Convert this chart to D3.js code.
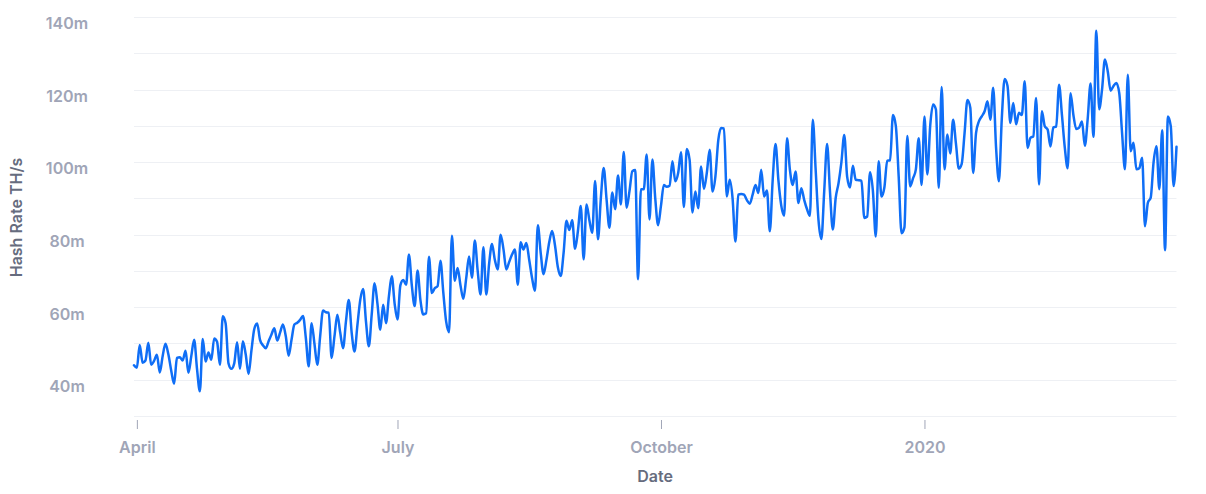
<!DOCTYPE html>
<html>
<head>
<meta charset="utf-8">
<script src="https://cdn.jsdelivr.net/npm/d3@7"></script>
<style>
  html, body { margin: 0; padding: 0; background: #fff; }
  svg { display: block; font-family: Inter, "Noto Sans", sans-serif; }
</style>
</head>
<body>
<svg id="chart" width="1206" height="494"></svg>
<script>
// --- DATA ---
// daily hash rate (millions of TH/s), one value per day starting 2019-03-31
const startDate = "2019-03-31";
const hashRate = [
  44.0, 43.3, 49.6, 44.7, 45.3, 50.2, 44.1, 45.2, 46.9, 42.0,
  46.5, 49.9, 47.0, 42.5, 38.9, 46.0, 46.2, 45.3, 48.0, 41.9,
  46.5, 51.0, 43.0, 36.8, 51.2, 45.0, 47.5, 45.5, 51.4, 50.5,
  44.1, 57.5, 55.5, 44.5, 43.0, 44.5, 50.3, 43.0, 50.6, 47.0,
  41.6, 48.0, 54.0, 55.5, 51.0, 49.5, 48.7, 50.6, 52.5, 54.2,
  50.8, 53.0, 55.2, 52.0, 46.6, 51.0, 55.2, 55.7, 56.5, 57.6,
  51.5, 43.7, 55.6, 50.0, 44.1, 52.0, 59.1, 58.6, 58.5, 46.0,
  52.0, 57.9, 53.0, 48.7, 56.0, 62.0, 53.0, 47.8, 55.0, 62.0,
  65.0, 56.0, 49.2, 58.0, 66.6, 61.0, 53.8, 60.7, 55.6, 63.0,
  68.5, 61.0, 56.6, 66.0, 67.5, 66.2, 74.5, 66.0, 60.3, 70.1,
  62.0, 58.0, 58.3, 73.9, 63.9, 65.2, 65.8, 72.8, 64.0, 56.0,
  53.1, 79.7, 67.3, 70.8, 66.0, 62.3, 68.0, 74.0, 68.1, 78.4,
  70.0, 63.5, 76.5, 63.5, 72.0, 77.4, 73.0, 70.4, 80.0, 76.0,
  70.4, 72.5, 74.5, 75.9, 66.2, 77.9, 75.9, 77.7, 73.0, 68.0,
  64.5, 82.6, 75.0, 69.1, 73.0, 78.0, 81.0, 77.0, 71.0, 68.6,
  75.0, 83.8, 81.3, 84.0, 76.1, 81.0, 87.9, 73.2, 88.3, 84.0,
  80.5, 94.8, 78.7, 90.0, 98.4, 89.7, 81.9, 91.6, 87.0, 96.3,
  88.3, 102.8, 87.4, 92.0, 97.5, 97.8, 67.7, 92.5, 92.5, 102.1,
  84.2, 100.7, 90.0, 82.6, 88.0, 93.7, 93.2, 93.5, 100.2, 94.7,
  97.0, 102.7, 87.6, 103.6, 100.6, 86.1, 91.9, 87.3, 98.8, 92.6,
  97.0, 103.4, 91.9, 96.0, 106.0, 109.4, 109.3, 90.5, 95.1, 90.0,
  78.1, 91.0, 91.2, 91.0, 89.5, 88.5, 91.0, 93.7, 91.5, 97.9,
  90.5, 92.2, 80.9, 95.0, 105.0, 95.0, 88.0, 85.2, 106.6, 98.0,
  93.7, 97.4, 88.7, 92.8, 89.6, 87.0, 85.2, 111.7, 98.0, 84.0,
  78.8, 92.0, 105.0, 92.0, 81.4, 90.1, 94.2, 100.0, 107.5, 96.0,
  93.0, 99.0, 95.1, 95.0, 94.8, 84.6, 85.0, 97.2, 92.0, 79.5,
  100.2, 90.5, 93.0, 100.4, 100.5, 113.0, 110.0, 96.0, 80.4, 82.0,
  107.2, 93.3, 95.5, 98.0, 106.6, 93.7, 112.6, 96.6, 110.0, 115.9,
  114.5, 92.9, 120.7, 98.0, 107.6, 102.4, 111.7, 105.0, 98.2, 99.5,
  108.0, 117.1, 115.0, 97.0, 108.0, 111.2, 112.6, 114.0, 116.8, 111.7,
  120.5, 104.0, 94.7, 112.0, 122.9, 121.0, 110.8, 116.3, 110.4, 113.6,
  113.0, 122.3, 103.9, 106.7, 107.1, 117.7, 93.8, 114.0, 109.9, 109.0,
  104.3, 109.6, 109.8, 121.3, 113.0, 104.0, 98.3, 119.0, 113.0, 109.1,
  109.5, 111.2, 104.5, 112.0, 121.7, 107.0, 136.2, 114.6, 120.0, 128.3,
  125.0, 119.7, 121.0, 121.8, 119.1, 108.0, 98.0, 124.1, 103.0, 105.3,
  98.0, 98.3, 101.2, 82.3, 88.8, 90.2, 100.0, 104.4, 92.5, 108.8,
  75.7, 112.6, 109.9, 93.4, 104.2
];

const xTickDates = ["2019-04-01", "2019-07-01", "2019-10-01", "2020-01-01"];
const xTickLabels = ["April", "July", "October", "2020"];
const yTicks = [40, 60, 80, 100, 120, 140];
const yGrid = [30, 40, 50, 60, 70, 80, 90, 100, 110, 120, 130, 140];

const yLabel = "Hash Rate TH/s";
const xLabel = "Date";

// --- CHART ---
function renderHashRate() {
    const width = 1206, height = 494;
    const marginLeft = 134, marginRight = 30, marginTop = 17, marginBottom = 78;

    const parse = d3.utcParse("%Y-%m-%d");
    const t0 = parse(startDate);
    const data = hashRate.map((v, i) => ({ date: d3.utcDay.offset(t0, i), value: v }));

    const x = d3.scaleUtc()
        .domain(d3.extent(data, d => d.date))
        .range([marginLeft, width - marginRight + 0.5]);

    const y = d3.scaleLinear()
        .domain([30, 140])
        .range([height - marginBottom, marginTop]);

    const svg = d3.select("#chart");
    svg.selectAll("*").remove();

    // horizontal grid
    svg.append("g")
        .attr("stroke", "#eef0f4")
        .attr("stroke-width", 1)
      .selectAll("line")
      .data(yGrid)
      .join("line")
        .attr("x1", marginLeft)
        .attr("x2", width - marginRight + 0.5)
        .attr("y1", d => Math.round(y(d)) + 0.5)
        .attr("y2", d => Math.round(y(d)) + 0.5);

    // y axis labels (centred under each grid line)
    svg.append("g")
        .attr("transform", "translate(67,0)")
        .call(d3.axisLeft(y).tickValues(yTicks).tickSize(0).tickFormat(d => d + "m"))
        .call(g => g.select(".domain").remove())
        .call(g => g.selectAll(".tick text")
            .attr("x", 0)
            .attr("dy", "0.74em")
            .attr("text-anchor", "middle")
            .attr("fill", "#a0a5b7")
            .attr("font-size", 16)
            .attr("font-weight", 600)
            .attr("font-family", "Inter, sans-serif"));

    // x axis
    svg.append("g")
        .attr("transform", `translate(0,${height - marginBottom + 4})`)
        .call(d3.axisBottom(x)
            .tickValues(xTickDates.map(parse))
            .tickFormat((d, i) => xTickLabels[i])
            .tickSize(9)
            .tickPadding(13))
        .call(g => g.select(".domain").remove())
        .call(g => g.selectAll(".tick line").attr("stroke", "#a0a5b7"))
        .call(g => g.selectAll(".tick text")
            .attr("fill", "#a0a5b7")
            .attr("font-size", 16)
            .attr("font-weight", 600)
            .attr("font-family", "Inter, sans-serif"));

    // axis titles
    svg.append("text")
        .attr("transform", `translate(21.5,${(marginTop + height - marginBottom) / 2 + 1}) rotate(-90)`)
        .attr("text-anchor", "middle")
        .attr("fill", "#666c7e")
        .attr("font-size", 16)
        .attr("font-weight", 600)
        .text(yLabel);

    svg.append("text")
        .attr("x", (marginLeft + width - marginRight) / 2)
        .attr("y", 482)
        .attr("text-anchor", "middle")
        .attr("fill", "#666c7e")
        .attr("font-size", 16)
        .attr("font-weight", 600)
        .text(xLabel);

    // the line
    const line = d3.line()
        .x(d => x(d.date))
        .y(d => y(d.value))
        .curve(d3.curveMonotoneX);

    svg.append("path")
        .datum(data)
        .attr("fill", "none")
        .attr("stroke", "#0f6ef6")
        .attr("stroke-width", 2.5)
        .attr("stroke-linejoin", "round")
        .attr("stroke-linecap", "round")
        .attr("d", line);

    return svg.node();
}

renderHashRate();
</script>
</body>
</html>
